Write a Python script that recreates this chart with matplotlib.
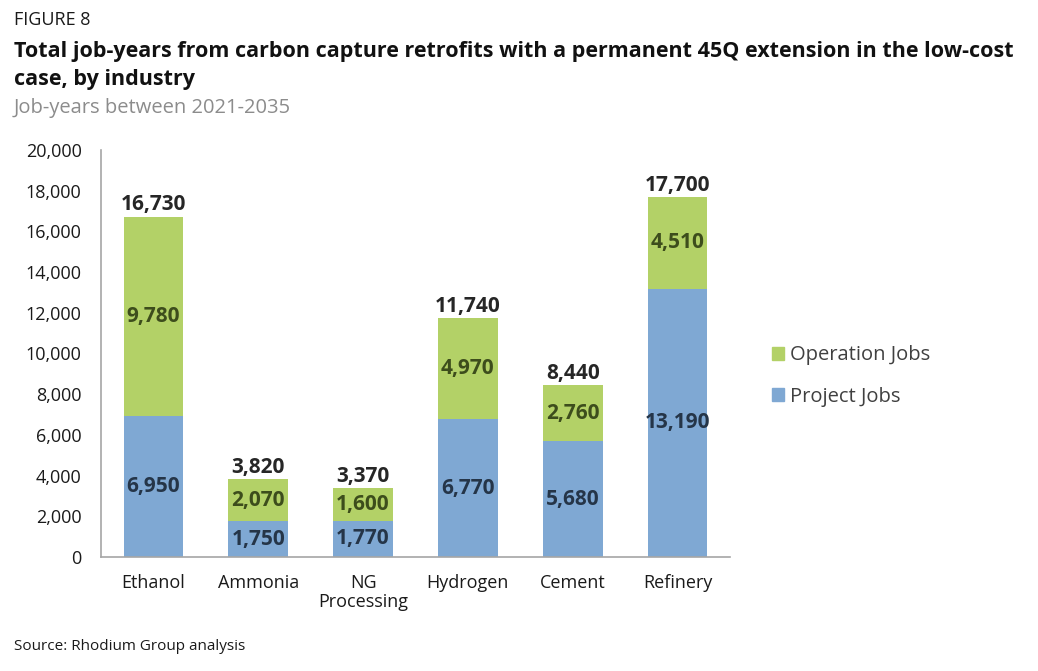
import matplotlib
matplotlib.use("Agg")
import matplotlib.pyplot as plt
from matplotlib.patches import Patch

plt.rcParams['font.family'] = ['Open Sans', 'DejaVu Sans']

categories = ["Ethanol", "Ammonia", "NG\nProcessing", "Hydrogen", "Cement", "Refinery"]
project_jobs = [6950, 1750, 1770, 6770, 5680, 13190]
operation_jobs = [9780, 2070, 1600, 4970, 2760, 4510]
totals = [16730, 3820, 3370, 11740, 8440, 17700]

green = "#B3D167"
blue = "#7FA8D3"

fig = plt.figure(figsize=(10.38, 6.71), dpi=100)
ax = fig.add_axes([101/1038, 1-557/671, (730-101)/1038, (557-150)/671])

x = list(range(len(categories)))
w = 0.57
ax.bar(x, project_jobs, width=w, color=blue, zorder=2)
ax.bar(x, operation_jobs, width=w, bottom=project_jobs, color=green, zorder=2)

for i in x:
    ax.text(i, project_jobs[i]/2, f"{project_jobs[i]:,}", ha='center', va='center',
            fontsize=15, fontweight='bold', color="#253548")
    ax.text(i, project_jobs[i] + operation_jobs[i]/2, f"{operation_jobs[i]:,}", ha='center', va='center',
            fontsize=15, fontweight='bold', color="#3D4D1C")
    ax.text(i, totals[i] + 60, f"{totals[i]:,}", ha='center', va='bottom',
            fontsize=15, fontweight='bold', color="#262626")

ax.set_xlim(-0.5, 5.5)
ax.set_ylim(0, 20000)
ax.set_yticks(range(0, 20001, 2000))
ax.set_yticklabels([f"{v:,}" for v in range(0, 20001, 2000)])
ax.set_xticks(x)
ax.set_xticklabels(categories, linespacing=1.1)
ax.tick_params(axis='both', length=0, labelsize=13, colors="#1a1a1a")
ax.tick_params(axis='y', pad=14)
ax.tick_params(axis='x', pad=12)
for s in ['top', 'right']:
    ax.spines[s].set_visible(False)
for s in ['left', 'bottom']:
    ax.spines[s].set_color("#A6A6A6")
    ax.spines[s].set_linewidth(1.2)

handles = [Patch(color=green, label="Operation Jobs"), Patch(color=blue, label="Project Jobs")]
fig.legend(handles=handles, loc='center left', bbox_to_anchor=(754/1038, 1-376/671),
           frameon=False, fontsize=14.5, handlelength=0.6, handleheight=0.6,
           handletextpad=0.3, labelspacing=1.05, labelcolor="#404040")

fig.text(14/1038, 1-20/671, "FIGURE 8", fontsize=13, va='center', ha='left', color="#1a1a1a")
fig.text(14/1038, 1-51/671, "Total job-years from carbon capture retrofits with a permanent 45Q extension in the low-cost",
         fontsize=15.5, fontweight='bold', va='center', ha='left', color="#111111")
fig.text(14/1038, 1-79/671, "case, by industry",
         fontsize=15.5, fontweight='bold', va='center', ha='left', color="#111111")
fig.text(14/1038, 1-108/671, "Job-years between 2021-2035", fontsize=14.5, va='center', ha='left', color="#8C8C8C")
fig.text(14/1038, 1-646/671, "Source: Rhodium Group analysis", fontsize=11, va='center', ha='left', color="#1a1a1a")

fig.savefig("out.png", dpi=100)
